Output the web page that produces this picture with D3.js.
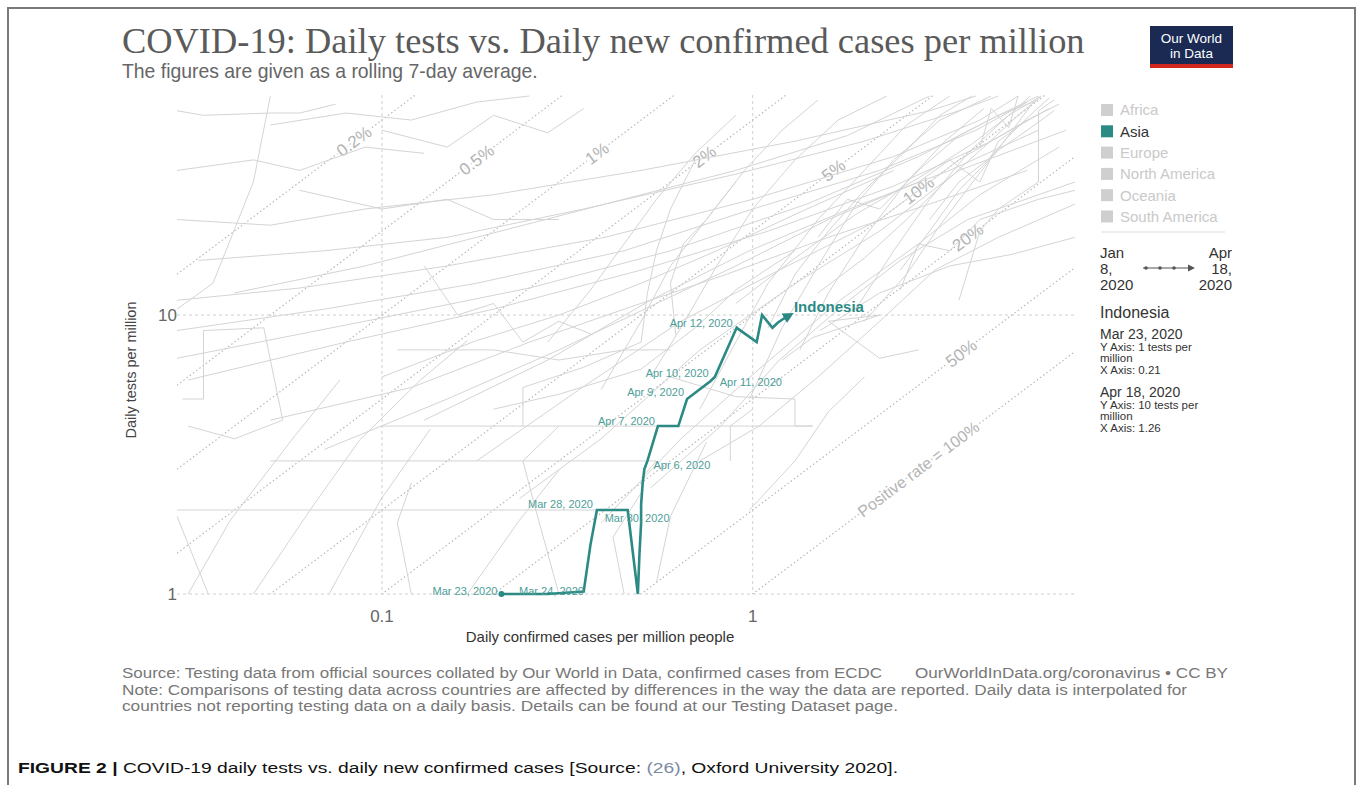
<!DOCTYPE html>
<html>
<head>
<meta charset="utf-8">
<script src="https://cdn.jsdelivr.net/npm/d3@7"></script>
<style>
  html, body { margin: 0; padding: 0; background: #fff; }
  svg { display: block; }
</style>
</head>
<body>
<svg id="chart" width="1358" height="785"></svg>
<script>
// ---- Data ---------------------------------------------------------------
const xTickValues = [0.1, 1];
const xTickLabels = ["0.1", "1"];
const yTickValues = [1, 10];
const yTickLabels = ["1", "10"];

// Positive-rate reference lines (tests = cases / rate)
const rates = [0.002, 0.005, 0.01, 0.02, 0.05, 0.1, 0.2, 0.5, 1];
const rateLabels = ["0.2%", "0.5%", "1%", "2%", "5%", "10%", "20%", "50%", "Positive rate = 100%"];
const rateLabelTests = [42, 36, 38, 37, 33, 28, 19, 7.3, 2.8];

const continents = ["Africa", "Asia", "Europe", "North America", "Oceania", "South America"];
const activeContinent = "Asia";

// Indonesia, daily values (7-day rolling average)
const idnDates = ["Mar 23, 2020","Mar 24, 2020","Mar 25, 2020","Mar 26, 2020","Mar 27, 2020","Mar 28, 2020",
  "Mar 29, 2020","Mar 30, 2020","Mar 31, 2020","Apr 1, 2020","Apr 2, 2020","Apr 3, 2020","Apr 4, 2020",
  "Apr 5, 2020","Apr 6, 2020","Apr 7, 2020","Apr 8, 2020","Apr 9, 2020","Apr 10, 2020","Apr 11, 2020",
  "Apr 12, 2020","Apr 13, 2020","Apr 14, 2020","Apr 15, 2020","Apr 16, 2020","Apr 17, 2020","Apr 18, 2020"];
const idnCases = [0.21, 0.23, 0.28, 0.35, 0.365, 0.38, 0.42, 0.46, 0.49, 0.495, 0.50, 0.50, 0.505,
  0.51, 0.52, 0.555, 0.63, 0.665, 0.77, 0.79, 0.905, 1.025, 1.06, 1.13, 1.17, 1.21, 1.26];
const idnTests = [1, 1, 1, 1.02, 1.5, 2, 2, 2, 1, 1.4, 1.8, 2.1, 2.5,
  2.8, 3.0, 4.0, 4.0, 5.0, 5.8, 6.0, 9.0, 8.0, 10.0, 9.0, 9.4, 9.7, 10];
const idnLabelled = ["Mar 23, 2020","Mar 24, 2020","Mar 28, 2020","Mar 30, 2020","Apr 6, 2020",
  "Apr 7, 2020","Apr 9, 2020","Apr 10, 2020","Apr 11, 2020","Apr 12, 2020"];

// Other countries (greyed out), each as [cases per million, tests per million] points
const otherCountries = [
  [[0.028,8.8],[0.07,10.5],[0.18,13],[0.45,17],[1.0,24],[2.2,33],[4.0,46],[5.5,58]],
  [[0.028,7.0],[0.09,9.5],[0.25,12.5],[0.6,17],[1.4,25],[2.8,37],[4.6,52],[5.9,61]],
  [[0.03,5.85],[0.08,8],[0.2,10.5],[0.5,14.5],[1.1,20],[2.4,29],[4.4,42],[6.3,55]],
  [[0.028,11.3],[0.06,12.5],[0.15,15],[0.4,19],[1.0,26],[2.4,37],[4.1,50],[5.2,61]],
  [[0.032,15.7],[0.07,17],[0.15,19],[0.35,24],[0.9,32],[2.0,42],[3.6,54],[4.6,61]],
  [[0.028,22],[0.05,21],[0.09,24],[0.2,27],[0.5,33],[1.3,42],[3.0,54],[4.0,61]],
  [[0.028,33],[0.045,36],[0.06,33],[0.09,40],[0.13,38]],
  [[0.05,48],[0.08,53],[0.12,50],[0.18,58],[0.25,61]],
  [[0.13,4.2],[0.28,6.9],[0.53,11.3],[0.98,17],[1.82,24],[3.4,33],[5.9,46]],
  [[0.18,3.0],[0.34,5.4],[0.64,9.5],[1.18,14.5],[2.2,22],[3.6,36],[5.5,50]],
  [[0.235,2.2],[0.39,3.6],[0.72,7.5],[1.34,13.3],[2.2,20],[3.6,33],[7.0,46]],
  [[0.39,1.8],[0.64,3.6],[1.04,6.4],[1.72,11.3],[2.8,18],[4.1,27],[6.7,40]],
  [[0.53,2.4],[0.82,4.0],[1.18,6.9],[1.82,11.3],[2.5,15.7],[3.8,22],[7.4,30]],
  [[0.72,3.0],[1.04,4.0],[1.5,6.0],[2.2,9.5],[3.1,14.5],[4.6,19],[7.4,25]],
  [[1.52,8.8],[2.2,12],[3.4,15],[5.0,16.5],[7.4,19]],
  [[0.98,5.0],[1.2,9],[1.5,15],[1.9,25],[2.4,36],[3.2,50],[4.4,61]],
  [[0.72,4.6],[0.9,8],[1.1,13],[1.5,22],[2.0,33],[2.6,48],[3.4,61]],
  [[1.34,7.5],[1.6,12],[2.0,19],[2.6,30],[3.3,42],[4.2,55]],
  [[0.53,6.0],[0.64,9],[0.8,15],[1.0,24],[1.3,36],[1.7,50],[2.3,61]],
  [[0.39,5.4],[0.5,9.5],[0.6,15],[0.75,22],[0.95,33],[1.2,46],[1.5,59]],
  [[0.28,8.0],[0.36,12],[0.45,18],[0.55,26],[0.7,38],[0.9,52]],
  [[1.94,11],[2.4,17],[3.0,26],[3.8,38],[4.9,52],[6.0,61]],
  [[2.5,14.5],[3.0,20],[3.6,28],[4.6,39],[5.5,46],[6.5,54]],
  [[1.1,9],[1.3,14],[1.6,20],[2.0,28],[2.6,39],[3.2,52],[3.9,61]],
  [[2.5,12.3],[2.8,18],[3.4,17],[4.1,22],[5.9,26],[7.4,28]],
  [[3.6,11.3],[4.1,20],[4.6,24],[5.9,30],[5.9,54],[6.5,59]],
  [[2.8,30],[3.4,36],[4.1,30],[4.6,42],[5.5,50],[6.7,57]],
  [[1.5,19],[1.8,26],[2.2,24],[2.8,33],[3.6,44],[4.6,52],[5.9,59]],
  [[1.5,12],[2.0,16],[2.6,22],[3.3,30],[4.2,40],[5.2,52],[6.0,61]],
  [[2.0,9.5],[2.6,14],[3.2,21],[4.0,31],[4.9,44],[5.6,56]],
  [[0.9,11],[1.3,16],[1.9,23],[2.8,31],[3.9,41],[5.0,53],[5.6,61]],
  [[3.0,22],[3.6,30],[4.3,36],[5.0,45],[5.6,52],[6.3,60]],
  [[4.1,40],[4.4,55],[4.9,47],[5.2,61]],
  [[0.11,7.5],[0.2,7.5],[0.3,6.9],[0.45,7.5],[0.6,7.5]],
  [[0.1,4.0],[0.5,4.0],[1.45,4.0],[1.3,4.0],[1.3,5.0],[0.9,5.1],[0.6,6.0]],
  [[0.05,3.0],[0.2,3.0],[0.55,3.0],[0.5,2.6]],
  [[0.028,2.0],[0.12,2.0],[0.39,2.0]],
  [[0.24,4.0],[0.24,5.5],[0.35,6.5],[0.5,8]],
  [[0.87,3.0],[0.87,4.0],[1.0,4.6]],
  [[1.2,6.9],[1.45,8.3],[2.2,10],[1.6,9.5],[2.2,7.0],[2.8,7.5]],
  [[0.03,1],[0.039,1.84],[0.057,3.56],[0.077,5.85]],
  [[0.045,1],[0.064,2],[0.087,3.56],[0.127,5.85],[0.17,8.1]],
  [[0.072,1],[0.099,2.17],[0.135,3.9]],
  [[0.17,1],[0.235,1.84],[0.3,2.78]],
  [[0.028,1.9],[0.034,1.0]],
  [[0.029,5.0],[0.033,5.0],[0.033,8.8],[0.048,9.0],[0.054,4.2],[0.04,3.6],[0.03,4.0]],
  [[0.028,54],[0.033,52],[0.05,53],[0.06,53],[0.075,57]],
  [[0.05,61],[0.045,30],[0.035,13],[0.028,10.5]],
  [[0.06,28],[0.1,24],[0.15,26],[0.2,22],[0.3,22]],
  [[0.1,46],[0.15,40],[0.2,52],[0.28,45],[0.35,55]],
  [[0.13,15],[0.16,10],[0.2,11],[0.24,8],[0.3,9.5],[0.37,8.5]],
  [[0.45,1.0],[0.42,1.6],[0.5,2.3]],
  [[0.55,1.1],[0.6,1.9],[0.75,3.5]],
  [[0.12,1.0],[0.11,1.8],[0.12,2.5]],
  [[0.3,1.0],[0.26,2.0],[0.24,3.0],[0.3,4.0]],
  [[0.98,2.0],[1.3,3.0],[1.6,4.5],[2.0,6.0]],
  [[0.1,6.0],[0.18,8.1],[0.3,10],[0.5,13],[0.8,17],[1.4,24],[2.4,33]],
  [[0.07,3.3],[0.15,5.0],[0.3,7.5],[0.55,11],[0.9,15],[1.6,22],[2.8,30]],
  [[0.05,4.2],[0.12,5.5],[0.25,8],[0.45,10.5],[0.85,14],[1.6,19],[3.0,25],[5.5,33]],
  [[0.04,12],[0.09,15],[0.18,19],[0.4,25],[0.9,33],[1.8,44],[3.0,61]],
  [[0.2,4.6],[0.3,5.2],[0.5,6.4],[0.7,9],[0.9,12.3],[1.3,17]],
  [[0.5,8],[0.52,12],[0.55,17],[0.6,24],[0.7,36]],
  [[0.62,8.5],[0.6,13],[0.65,18],[0.75,22],[0.9,30]]
];

// ---- Layout & styles -----------------------------------------------------
const teal = "#2b8a84";
const tealLabel = "#4e9e99";
const sans = "'Liberation Sans', Arial, Helvetica, sans-serif";
const serif = "'Liberation Serif', 'Times New Roman', serif";
const plot = { left: 177, right: 1075, top: 95, bottom: 594 };

const svg = d3.select("#chart");

function fitWidth(sel, width) {
  const len = sel.node().getComputedTextLength();
  const fs = parseFloat(sel.attr("font-size"));
  sel.attr("font-size", (fs * width / len).toFixed(2));
  return sel;
}
function stretchTo(sel, width) {
  sel.attr("textLength", width).attr("lengthAdjust", "spacingAndGlyphs");
  return sel;
}

// Figure frame
svg.append("path")
  .attr("d", "M8,785 V8 H1355 V785")
  .attr("fill", "none").attr("stroke", "#7a7a7a").attr("stroke-width", 2);

// Title and subtitle
fitWidth(svg.append("text")
  .attr("x", 122).attr("y", 53)
  .attr("font-family", serif).attr("font-size", 32).attr("fill", "#5a5a5a")
  .text("COVID-19: Daily tests vs. Daily new confirmed cases per million"), 963);
fitWidth(svg.append("text")
  .attr("x", 122).attr("y", 78)
  .attr("font-family", sans).attr("font-size", 16).attr("fill", "#666")
  .text("The figures are given as a rolling 7-day average."), 416);

// Logo
const logo = svg.append("g");
logo.append("rect").attr("x", 1150).attr("y", 26).attr("width", 83).attr("height", 42).attr("fill", "#1a2a52");
logo.append("rect").attr("x", 1150).attr("y", 64).attr("width", 83).attr("height", 4).attr("fill", "#d0281f");
logo.append("text").attr("x", 1191.5).attr("y", 43).attr("text-anchor", "middle")
  .attr("font-family", sans).attr("font-size", 13.5).attr("fill", "#fff").text("Our World");
logo.append("text").attr("x", 1191.5).attr("y", 58).attr("text-anchor", "middle")
  .attr("font-family", sans).attr("font-size", 13.5).attr("fill", "#fff").text("in Data");

// Scales
const x = d3.scaleLog().domain([0.028, 7.4]).range([plot.left, plot.right]);
const y = d3.scaleLog().domain([1, 61.5]).range([plot.bottom, plot.top]);

svg.append("clipPath").attr("id", "plot-clip")
  .append("rect").attr("x", plot.left).attr("y", plot.top)
  .attr("width", plot.right - plot.left).attr("height", plot.bottom - plot.top);

// Grid lines
const grid = svg.append("g");
grid.selectAll(".vgrid").data(xTickValues).join("line")
  .attr("x1", d => x(d)).attr("x2", d => x(d))
  .attr("y1", plot.top).attr("y2", plot.bottom)
  .attr("stroke", "#cfcfcf").attr("stroke-dasharray", "3,3");
grid.selectAll(".hgrid").data(yTickValues).join("line")
  .attr("x1", plot.left).attr("x2", plot.right)
  .attr("y1", d => y(d)).attr("y2", d => y(d))
  .attr("stroke", "#cfcfcf").attr("stroke-dasharray", "3,3");

// Positive-rate lines
const rateG = svg.append("g").attr("clip-path", "url(#plot-clip)");
const xd = x.domain();
rateG.selectAll("line").data(rates).join("line")
  .attr("x1", x(xd[0])).attr("y1", r => y(xd[0] / r))
  .attr("x2", x(xd[1])).attr("y2", r => y(xd[1] / r))
  .attr("stroke", "#b9b9b9").attr("stroke-width", 1.2).attr("stroke-dasharray", "1.5,2.5");

const angle = -Math.atan((y(1) - y(10)) / (x(10) - x(1))) * 180 / Math.PI;
svg.append("g").selectAll("text").data(rates).join("text")
  .attr("transform", (r, i) => `translate(${x(rateLabelTests[i] * r)},${y(rateLabelTests[i])}) rotate(${angle})`)
  .attr("text-anchor", "middle").attr("dy", "0.35em")
  .attr("font-family", sans).attr("font-size", (r, i) => i === 8 ? 16 : 17)
  .attr("fill", "#b3b3b3")
  .attr("stroke", "#fff").attr("stroke-width", 4).attr("paint-order", "stroke")
  .text((r, i) => rateLabels[i]);

// Other countries
const line = d3.line().x(d => x(d[0])).y(d => y(d[1]));
svg.append("g").attr("clip-path", "url(#plot-clip)")
  .selectAll("path").data(otherCountries).join("path")
  .attr("d", line).attr("fill", "none")
  .attr("stroke", "#d4d4d4").attr("stroke-width", 1).attr("stroke-linejoin", "round");

// Axis tick labels
svg.append("g").selectAll("text").data(yTickValues).join("text")
  .attr("x", 177).attr("y", d => y(d)).attr("dy", "0.36em").attr("text-anchor", "end")
  .attr("font-family", sans).attr("font-size", 17).attr("fill", "#666")
  .text((d, i) => yTickLabels[i]);
svg.append("g").selectAll("text").data(xTickValues).join("text")
  .attr("x", d => x(d)).attr("y", 622).attr("text-anchor", "middle")
  .attr("font-family", sans).attr("font-size", 17).attr("fill", "#666")
  .text((d, i) => xTickLabels[i]);

// Axis titles
svg.append("text")
  .attr("transform", "translate(136,370) rotate(-90)")
  .attr("text-anchor", "middle")
  .attr("font-family", sans).attr("font-size", 14.5).attr("fill", "#444")
  .text("Daily tests per million");
svg.append("text")
  .attr("x", 600).attr("y", 642).attr("text-anchor", "middle")
  .attr("font-family", sans).attr("font-size", 15).attr("fill", "#333")
  .text("Daily confirmed cases per million people");

// Indonesia trajectory
const idn = idnDates.map((d, i) => ({ date: d, cases: idnCases[i], tests: idnTests[i] }));
svg.append("defs").append("marker")
  .attr("id", "arrow").attr("viewBox", "0 0 10 10").attr("refX", 6).attr("refY", 5)
  .attr("markerWidth", 4.2).attr("markerHeight", 4.2).attr("orient", "auto")
  .append("path").attr("d", "M0,0 L10,5 L0,10 z").attr("fill", teal);

const idnG = svg.append("g");
idnG.append("path")
  .datum(idn)
  .attr("d", d3.line().x(d => x(d.cases)).y(d => y(d.tests)))
  .attr("fill", "none").attr("stroke", teal).attr("stroke-width", 2.6)
  .attr("stroke-linejoin", "miter").attr("marker-end", "url(#arrow)");
idnG.append("circle")
  .attr("cx", x(idn[0].cases)).attr("cy", y(idn[0].tests)).attr("r", 3)
  .attr("fill", teal);

// Date annotations along the Indonesia path
const labelPlacement = {
  "Mar 23, 2020": { anchor: "end", dx: -4, dy: -3 },
  "Mar 24, 2020": { anchor: "start", dx: 3, dy: -3 },
  "Mar 28, 2020": { anchor: "end", dx: -4, dy: -6 },
  "Mar 30, 2020": { anchor: "start", dx: -23, dy: 8 },
  "Apr 6, 2020":  { anchor: "start", dx: 6, dy: 4 },
  "Apr 7, 2020":  { anchor: "end", dx: -3, dy: -5 },
  "Apr 9, 2020":  { anchor: "end", dx: -3, dy: -7 },
  "Apr 10, 2020": { anchor: "end", dx: -2, dy: -8 },
  "Apr 11, 2020": { anchor: "start", dx: 5, dy: 5 },
  "Apr 12, 2020": { anchor: "end", dx: -4, dy: -5 }
};
idnG.selectAll(".datelabel").data(idn.filter(d => idnLabelled.includes(d.date))).join("text")
  .attr("x", d => x(d.cases) + labelPlacement[d.date].dx)
  .attr("y", d => y(d.tests) + labelPlacement[d.date].dy)
  .attr("dy", "0.35em")
  .attr("text-anchor", d => labelPlacement[d.date].anchor)
  .attr("font-family", sans).attr("font-size", 11).attr("fill", tealLabel)
  .text(d => d.date);

const last = idn[idn.length - 1];
idnG.append("text")
  .attr("x", x(last.cases) + 4).attr("y", y(last.tests) - 8)
  .attr("dy", "0.35em")
  .attr("font-family", sans).attr("font-size", 15).attr("font-weight", "bold")
  .attr("fill", teal).text("Indonesia");

// Legend
const legend = svg.append("g");
const rows = legend.selectAll("g").data(continents).join("g")
  .attr("transform", (d, i) => `translate(1101,${110 + i * 21.3})`);
rows.append("rect").attr("x", 0).attr("y", -6).attr("width", 12).attr("height", 12)
  .attr("fill", d => d === activeContinent ? teal : "#cfcfcf");
rows.append("text").attr("x", 19).attr("y", 0).attr("dy", "0.36em")
  .attr("font-family", sans).attr("font-size", 15)
  .attr("fill", d => d === activeContinent ? "#333" : "#c9c9c9")
  .text(d => d);
legend.append("line").attr("x1", 1101).attr("x2", 1225).attr("y1", 232).attr("y2", 232)
  .attr("stroke", "#ddd");

// Time range
const range = svg.append("g").attr("font-family", sans).attr("font-size", 15).attr("fill", "#333");
["Jan", "8,", "2020"].forEach((t, i) => range.append("text").attr("x", 1100).attr("y", 258 + i * 16).text(t));
["Apr", "18,", "2020"].forEach((t, i) => range.append("text").attr("x", 1232).attr("y", 258 + i * 16)
  .attr("text-anchor", "end").text(t));
svg.append("line").attr("x1", 1143).attr("x2", 1190).attr("y1", 268).attr("y2", 268)
  .attr("stroke", "#555").attr("stroke-width", 1);
svg.append("g").selectAll("circle").data([1146, 1160, 1174]).join("circle")
  .attr("cx", d => d).attr("cy", 268).attr("r", 1.8).attr("fill", "#555");
svg.append("path").attr("d", "M1188,264.5 L1195,268 L1188,271.5 Z").attr("fill", "#555");

// Selected-entity details
const info = svg.append("g").attr("font-family", sans).attr("fill", "#333");
info.append("text").attr("x", 1100).attr("y", 318).attr("font-size", 16).text("Indonesia");
const detailLines = [
  [idnDates[0], 14, 339],
  [`Y Axis: ${idnTests[0]} tests per`, 11.5, 351],
  ["million", 11.5, 362],
  [`X Axis: ${idnCases[0].toFixed(2)}`, 11.5, 374],
  [idnDates[idnDates.length - 1], 14, 397],
  [`Y Axis: ${idnTests[idnTests.length - 1]} tests per`, 11.5, 409],
  ["million", 11.5, 420],
  [`X Axis: ${idnCases[idnCases.length - 1].toFixed(2)}`, 11.5, 432]
];
detailLines.forEach(([t, fs, yy]) =>
  info.append("text").attr("x", 1100).attr("y", yy).attr("font-size", fs).text(t));

// Footer notes
const foot = svg.append("g").attr("font-family", sans).attr("fill", "#777");
stretchTo(foot.append("text").attr("x", 122).attr("y", 678).attr("font-size", 14)
  .text("Source: Testing data from official sources collated by Our World in Data, confirmed cases from ECDC"), 760);
stretchTo(foot.append("text").attr("x", 915).attr("y", 678).attr("font-size", 14)
  .text("OurWorldInData.org/coronavirus • CC BY"), 313);
stretchTo(foot.append("text").attr("x", 122).attr("y", 694.5).attr("font-size", 14)
  .text("Note: Comparisons of testing data across countries are affected by differences in the way the data are reported. Daily data is interpolated for"), 1065);
stretchTo(foot.append("text").attr("x", 122).attr("y", 711).attr("font-size", 14)
  .text("countries not reporting testing data on a daily basis. Details can be found at our Testing Dataset page."), 776);

// Figure caption
const cap = svg.append("text").attr("x", 18).attr("y", 773)
  .attr("font-family", sans).attr("font-size", 15.5).attr("fill", "#111");
cap.append("tspan").attr("font-weight", "bold").text("FIGURE 2 | ");
cap.append("tspan").text("COVID-19 daily tests vs. daily new confirmed cases [Source: ");
cap.append("tspan").attr("fill", "#7b8aa3").text("(26)");
cap.append("tspan").text(", Oxford University 2020].");
stretchTo(cap, 880);
</script>
</body>
</html>
